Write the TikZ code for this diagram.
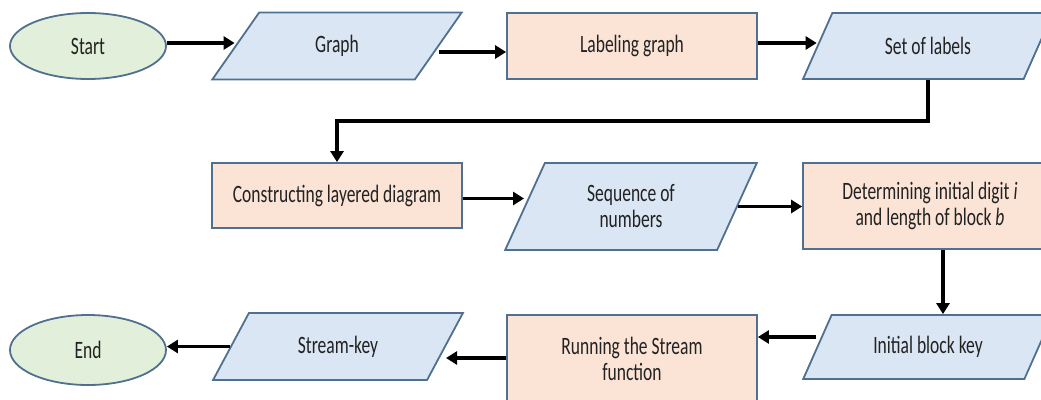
\documentclass[tikz,border=0pt]{standalone}
\usepackage{fontspec}
\setmainfont{Carlito}[FakeStretch=0.70]
\usetikzlibrary{shapes.geometric,arrows.meta,calc}
\definecolor{bordc}{HTML}{50708F}
\definecolor{parafill}{HTML}{DAE6F3}
\definecolor{rectfill}{HTML}{FBE4D6}
\definecolor{ellfill}{HTML}{E2EFDA}
\definecolor{txtc}{HTML}{222222}
\tikzset{
  base/.style={draw=bordc, line width=1.8pt, inner sep=0pt, text=txtc, align=center,
    font=\fontsize{25}{26}\selectfont},
  term/.style={base, ellipse, fill=ellfill},
  proc/.style={base, rectangle, fill=rectfill},
  para/.style={base, trapezium, trapezium stretches=true, fill=parafill,
    trapezium left angle=#1, trapezium right angle=180-#1},
  arr/.style={draw=black, line width=3.6pt, -{Triangle[length=11pt,width=13pt]}},
}
\begin{document}
\begin{tikzpicture}[x=1pt,y=-1pt]
\useasboundingbox (0,0) rectangle (1041,399);
\clip (0,0) rectangle (1041,399);
% row 1
\node[term, minimum width=156pt, minimum height=66pt] (start) at (88,46) {Start};
\node[para=58.5, minimum width=250pt, minimum height=67pt] (graph) at (337,46) {Graph};
\node[proc, minimum width=250pt, minimum height=66pt] (lab) at (632,46) {Labeling graph};
\node[para=53, minimum width=250pt, minimum height=66pt] (set) at (928,46) {Set of labels};
% row 2
\node[proc, minimum width=250pt, minimum height=65pt] (cons) at (337,195.5) {Constructing layered diagram};
\node[para=65, minimum width=252pt, minimum height=87pt] (seq) at (631,206.5) {Sequence of\\numbers};
\node[proc, minimum width=254pt, minimum height=86pt] (det) at (930,206) {Determining initial digit \textit{i}\\and length of block \textit{b}};
% row 3
\node[para=53, minimum width=250pt, minimum height=64pt] (init) at (928,347) {Initial block key};
\node[proc, minimum width=250pt, minimum height=88pt] (run) at (632,359) {Running the Stream\\function};
\node[para=53, minimum width=250pt, minimum height=67pt] (stream) at (338,346.5) {Stream-key};
\node[term, minimum width=156pt, minimum height=70pt] (end) at (88,350) {End};
% connectors
\draw[arr] ([yshift=3pt]start.east) -- ([yshift=3pt]start.east -| graph.west);
\draw[arr] ([yshift=-6pt]graph.east) -- ([yshift=-6pt]graph.east -| lab.west);
\draw[arr] ([yshift=3pt]lab.east) -- ([yshift=3pt]lab.east -| set.west);
\coordinate (mid) at ($(set.south)!0.5!(cons.north)$);
\draw[arr] (set.south) |- (mid) -| (cons.north);
\draw[arr] ([yshift=-3pt]cons.east) -- ([yshift=-3pt]cons.east -| seq.west);
\draw[arr] (seq.east) -- (seq.east -| det.west);
\draw[arr] ([xshift=13pt]det.south) -- ([xshift=13pt]det.south |- init.north);
\draw[arr] ([yshift=10pt]init.west) -- ([yshift=10pt]init.west -| run.east);
\draw[arr] ([yshift=1pt]run.west) -- ([yshift=1pt]run.west -| stream.east);
\draw[arr] (stream.west) -- (stream.west -| end.east);
\end{tikzpicture}
\end{document}
